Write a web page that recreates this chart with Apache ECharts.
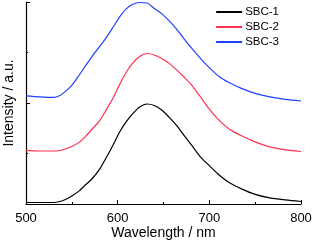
<!DOCTYPE html>
<html><head><meta charset="utf-8">
<script src="https://cdn.jsdelivr.net/npm/echarts@6/dist/echarts.min.js"></script>
<style>html,body{margin:0;padding:0;background:#fff}#c{width:315px;height:243px}</style>
</head><body><div id="c"></div>
<script>
var wavelengths = [500,515,530,537,543,550,558,565,572,580,587,595,602,609,616,624,632,640,648,656,664,672,680,690,700,711,722,735,750,766,783,800];
var sbc1 = [0.03,0.03,0.03,0.05,0.09,0.16,0.26,0.38,0.5,0.68,0.9,1.17,1.42,1.62,1.78,1.92,1.98,1.95,1.86,1.72,1.56,1.37,1.18,0.94,0.76,0.57,0.42,0.3,0.19,0.12,0.08,0.05];
var sbc2 = [1.06,1.05,1.05,1.06,1.09,1.14,1.22,1.34,1.48,1.64,1.85,2.1,2.36,2.6,2.78,2.92,2.98,2.95,2.88,2.79,2.66,2.52,2.37,2.13,1.88,1.65,1.48,1.35,1.23,1.13,1.07,1.04];
var sbc3 = [2.14,2.12,2.11,2.15,2.23,2.35,2.55,2.74,2.92,3.11,3.28,3.5,3.7,3.86,3.95,3.99,3.98,3.87,3.77,3.63,3.47,3.28,3.1,2.89,2.7,2.52,2.4,2.29,2.19,2.12,2.07,2.04];
var seriesNames = ['SBC-1','SBC-2','SBC-3'];
var colors = ['#000000','#ff3050','#2040ff'];
function pairs(v){return wavelengths.map(function(w,i){return [w,v[i]];});}
var data = [sbc1,sbc2,sbc3];
var chart = echarts.init(document.getElementById('c'));
var font = 'Liberation Sans, Arial, sans-serif';
chart.setOption({
  animation:false,
  grid:{left:26,right:14,top:2,bottom:39,containLabel:false,outerBoundsMode:'none'},
  legend:{
    top:1,right:31,orient:'vertical',itemGap:3,itemWidth:26,itemHeight:2,
    icon:'rect',
    textStyle:{fontFamily:font,fontSize:11.5,color:'#000',padding:[0,0,0,-2]},
    data:seriesNames
  },
  xAxis:{
    type:'value',min:500,max:800,interval:100,
    name:'Wavelength / nm',nameLocation:'middle',nameGap:22,nameMoveOverlap:false,
    nameTextStyle:{fontFamily:font,fontSize:14,color:'#000'},
    axisLine:{lineStyle:{color:'#000',width:1.2}},
    axisTick:{inside:true,length:4,lineStyle:{color:'#000'}},
    minorTick:{show:true,splitNumber:2,length:2,lineStyle:{color:'#000'}},
    axisLabel:{fontFamily:font,fontSize:13,color:'#000',margin:8},
    splitLine:{show:false}
  },
  yAxis:{
    type:'value',min:0,max:4,interval:2,
    name:'Intensity / a.u.',nameLocation:'middle',nameGap:10,nameMoveOverlap:false,
    nameTextStyle:{fontFamily:font,fontSize:14,color:'#000'},
    axisLine:{show:true,lineStyle:{color:'#000',width:1.2}},
    axisTick:{show:true,inside:true,length:4,lineStyle:{color:'#000'}},
    minorTick:{show:true,splitNumber:2,length:2,lineStyle:{color:'#000'}},
    axisLabel:{show:false},
    splitLine:{show:false}
  },
  series:data.map(function(d,i){
    return {name:seriesNames[i],type:'line',data:pairs(d),smooth:0.3,showSymbol:false,
      lineStyle:{color:colors[i],width:1.2},itemStyle:{color:colors[i]}};
  })
});
</script></body></html>
